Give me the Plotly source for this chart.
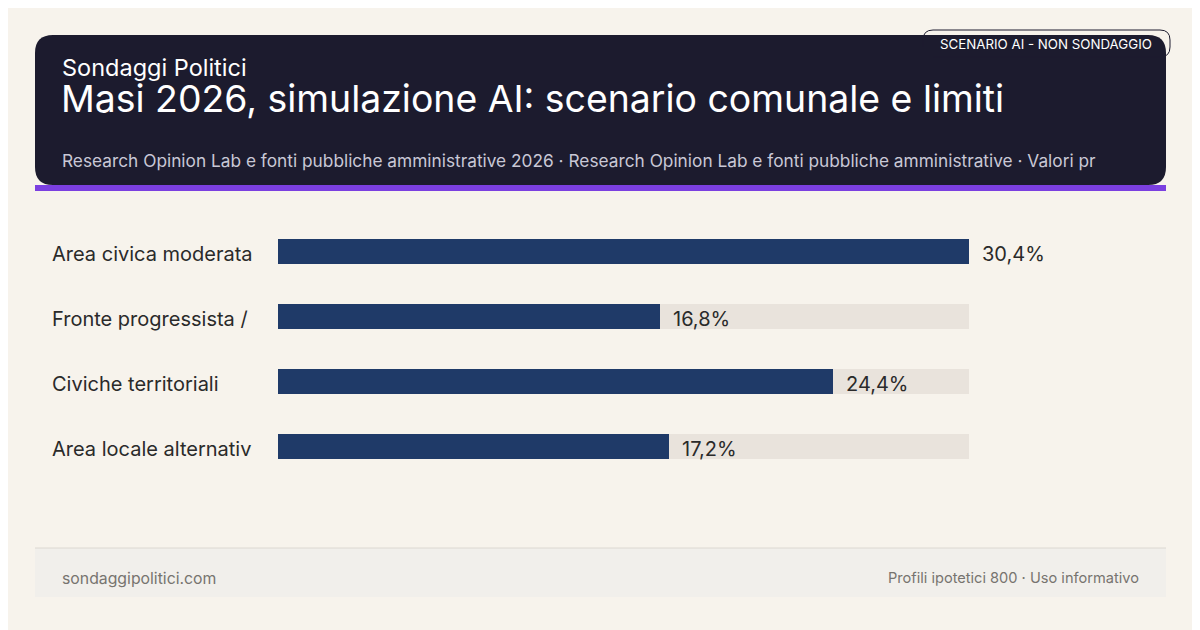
import plotly.graph_objs as go

W, H = 1200, 630
OFF = 8  # page body margin

# Data
categories = ['Area civica moderata', 'Fronte progressista /', 'Civiche territoriali', 'Area locale alternativ']
values = [30.4, 16.8, 24.4, 17.2]
value_labels = ['30,4%', '16,8%', '24,4%', '17,2%']
track_max = 30.4


def px(x):
    return (x - OFF) / W


def py(y):
    return 1 - (y - OFF) / H


def rounded_rect(x0, y0, x1, y1, r):
    # path in paper coords, corners given in pixels
    pts = [
        f"M {px(x0 + r)} {py(y0)}",
        f"L {px(x1 - r)} {py(y0)}",
        f"Q {px(x1)} {py(y0)} {px(x1)} {py(y0 + r)}",
        f"L {px(x1)} {py(y1 - r)}",
        f"Q {px(x1)} {py(y1)} {px(x1 - r)} {py(y1)}",
        f"L {px(x0 + r)} {py(y1)}",
        f"Q {px(x0)} {py(y1)} {px(x0)} {py(y1 - r)}",
        f"L {px(x0)} {py(y0 + r)}",
        f"Q {px(x0)} {py(y0)} {px(x0 + r)} {py(y0)}",
        "Z",
    ]
    return " ".join(pts)


fig = go.Figure()

# background tracks
fig.add_trace(go.Bar(
    x=[track_max] * len(categories), y=categories, orientation='h',
    marker=dict(color='#e9e3dc', line=dict(width=0)), width=0.385,
    hoverinfo='skip', showlegend=False
))
# value bars
fig.add_trace(go.Bar(
    x=values, y=categories, orientation='h',
    marker=dict(color='#1f3a68', line=dict(width=0)), width=0.385,
    showlegend=False
))

shapes = [
    # header box
    dict(type='path', xref='paper', yref='paper', path=rounded_rect(35, 35, 1166, 185, 18),
         fillcolor='#1c1b2e', line=dict(width=0), layer='below'),
    dict(type='rect', xref='paper', yref='paper', x0=px(35), x1=px(1166), y0=py(185), y1=py(191),
         fillcolor='#7b3fe0', line=dict(width=0)),
    # badge
    dict(type='path', xref='paper', yref='paper', path=rounded_rect(923, 30, 1170, 57, 10),
         fillcolor='rgba(0,0,0,0)', line=dict(color='#1c1b2e', width=1)),
    # footer
    dict(type='rect', xref='paper', yref='paper', x0=px(35), x1=px(1166), y0=py(597), y1=py(548),
         fillcolor='#f1efeb', line=dict(width=0), layer='below'),
    dict(type='line', xref='paper', yref='paper', x0=px(35), x1=px(1166), y0=py(548), y1=py(548),
         line=dict(color='#dcd8d2', width=1)),
]

annotations = [
    dict(text='Sondaggi Politici', x=px(60), y=py(67), xref='paper', yref='paper',
         xanchor='left', yanchor='middle', showarrow=False, font=dict(size=23.5, color='white')),
    dict(text='Masi 2026, simulazione AI: scenario comunale e limiti', x=px(59), y=py(99),
         xref='paper', yref='paper', xanchor='left', yanchor='middle', showarrow=False,
         font=dict(size=37.4, color='white')),
    dict(text='Research Opinion Lab e fonti pubbliche amministrative 2026 · Research Opinion Lab e fonti '
              'pubbliche amministrative · Valori pr',
         x=px(60), y=py(160), xref='paper', yref='paper', xanchor='left', yanchor='middle',
         showarrow=False, font=dict(size=17.3, color='#c9c8d6')),
    dict(text='SCENARIO AI - NON SONDAGGIO', x=px(1154), y=py(44), xref='paper', yref='paper',
         xanchor='right', yanchor='middle', showarrow=False, font=dict(size=13.3, color='white')),
    dict(text='sondaggipolitici.com', x=px(60), y=py(578), xref='paper', yref='paper',
         xanchor='left', yanchor='middle', showarrow=False, font=dict(size=15.8, color='#77746f')),
    dict(text='Profili ipotetici 800 · Uso informativo', x=px(1141), y=py(578), xref='paper',
         yref='paper', xanchor='right', yanchor='middle', showarrow=False,
         font=dict(size=14.6, color='#77746f')),
]

for cat, v, lab in zip(categories, values, value_labels):
    annotations.append(dict(text=cat, x=px(50), y=cat, xref='paper', yref='y', xanchor='left',
                            yanchor='middle', yshift=-3, showarrow=False,
                            font=dict(size=20, color='#2a2a2a')))
    annotations.append(dict(text=lab, x=v, y=cat, xref='x', yref='y', xanchor='left', xshift=11,
                            yanchor='middle', yshift=-3, showarrow=False,
                            font=dict(size=20, color='#2a2a2a')))

fig.update_layout(
    width=W, height=H,
    margin=dict(l=0, r=0, t=0, b=0),
    paper_bgcolor='#f7f3ec', plot_bgcolor='rgba(0,0,0,0)',
    font=dict(family='Inter, Noto Sans, sans-serif'),
    barmode='overlay', bargap=0,
    xaxis=dict(domain=[px(278), px(969)], range=[0, track_max], visible=False, fixedrange=True),
    yaxis=dict(domain=[py(478.5), py(218.5)], range=[3.5, -0.5], visible=False,
               categoryorder='array', categoryarray=categories, fixedrange=True),
    shapes=shapes, annotations=annotations,
)

fig.write_html("out.html")
